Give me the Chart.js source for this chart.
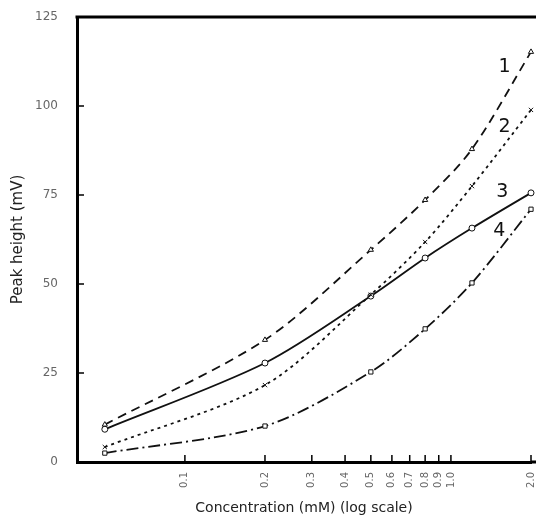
<!DOCTYPE html>
<html>
<head>
<meta charset="utf-8">
<script src="https://cdn.jsdelivr.net/npm/chart.js@4/dist/chart.umd.min.js"></script>
<style>
  html, body { margin: 0; padding: 0; background: #fff; overflow: hidden; }
  #wrap { width: 536px; height: 519px; }
</style>
</head>
<body>
<div id="wrap"><canvas id="peakChart"></canvas></div>
<script>
// concentrations (mM) where the peaks were measured
const concentrations = [0.05, 0.2, 0.5, 0.8, 1.2, 2.0];
// peak heights (mV) for curves 1..4
const curve1 = [10.5, 34.3, 59.6, 73.6, 87.9, 115.2];
const curve2 = [4.2, 21.6, 47.0, 61.8, 77.5, 98.9];
const curve3 = [9.2, 27.8, 46.6, 57.3, 65.7, 75.6];
const curve4 = [2.5, 10.1, 25.3, 37.4, 50.3, 71.0];
const curveNames = ['1', '2', '3', '4'];
const xTickValues = [0.1, 0.2, 0.3, 0.4, 0.5, 0.6, 0.7, 0.8, 0.9, 1.0, 2.0];
const yTickValues = [0, 25, 50, 75, 100, 125];

const pairs = (ys) => concentrations.map((c, i) => ({ x: c, y: ys[i] }));

const makeSet = (label, ys, dash, pointStyle) => ({
    label: label,
    data: pairs(ys),
    borderColor: '#111',
    backgroundColor: '#fff',
    borderWidth: 1.8,
    borderDash: dash,
    pointStyle: pointStyle,
    pointRadius: 3,
    pointBorderWidth: 1,
    pointBorderColor: '#111',
    pointBackgroundColor: '#fff',
    tension: 0.3,
    fill: false,
    clip: false
});

// draws the curve numbers next to the right ends of the lines
const curveLabelPlugin = {
    id: 'curveLabels',
    afterDatasetsDraw(chart) {
        const ctx = chart.ctx;
        const xs = chart.scales.x;
        const ys = chart.scales.y;
        const spots = [[1.59, 111], [1.59, 94], [1.56, 75.8], [1.52, 64.9]];
        ctx.save();
        ctx.fillStyle = '#111';
        ctx.font = '19px "DejaVu Sans"';
        ctx.textAlign = 'center';
        ctx.textBaseline = 'middle';
        curveNames.forEach((name, i) => {
            ctx.fillText(name, xs.getPixelForValue(spots[i][0]), ys.getPixelForValue(spots[i][1]));
        });
        ctx.restore();
    }
};

// frame on top plus inward tick marks
const framePlugin = {
    id: 'frame',
    afterDraw(chart) {
        const ctx = chart.ctx;
        const area = chart.chartArea;
        const xs = chart.scales.x;
        const ys = chart.scales.y;
        ctx.save();
        ctx.strokeStyle = '#000';
        ctx.lineWidth = 3;
        ctx.beginPath();
        ctx.moveTo(area.left - 1.5, area.top);
        ctx.lineTo(chart.width, area.top);
        ctx.moveTo(area.right, area.bottom);
        ctx.lineTo(chart.width, area.bottom);
        ctx.stroke();

        ctx.lineWidth = 1.5;
        ctx.beginPath();
        xTickValues.forEach(v => {
            const px = xs.getPixelForValue(v);
            ctx.moveTo(px, area.bottom);
            ctx.lineTo(px, area.bottom - 7);
        });
        yTickValues.slice(1, -1).forEach(v => {
            const py = ys.getPixelForValue(v);
            ctx.moveTo(area.left, py);
            ctx.lineTo(area.left + 7, py);
        });
        ctx.stroke();
        ctx.restore();
    }
};

const noPad = (s) => { s.paddingTop = 0; s.paddingBottom = 0; s.paddingLeft = 0; s.paddingRight = 0; };

new Chart(document.getElementById('peakChart').getContext('2d'), {
    type: 'line',
    data: {
        datasets: [
            makeSet('1', curve1, [9, 6], 'triangle'),
            makeSet('2', curve2, [3, 4], 'crossRot'),
            makeSet('3', curve3, [], 'circle'),
            makeSet('4', curve4, [12, 4, 2, 4], 'rect')
        ]
    },
    options: {
        responsive: true,
        maintainAspectRatio: false,
        animation: false,
        layout: { padding: { top: 17, right: 0, left: 0, bottom: 0 } },
        plugins: {
            legend: { display: false },
            tooltip: { enabled: false }
        },
        scales: {
            x: {
                type: 'logarithmic',
                min: 0.0393,
                max: 2.0,
                afterFit: (s) => { s.height = 57; noPad(s); },
                afterBuildTicks: (s) => { s.ticks = xTickValues.map(v => ({ value: v })); },
                grid: { display: false, drawTicks: false },
                border: { display: true, color: '#000', width: 3 },
                ticks: {
                    autoSkip: false,
                    minRotation: 90,
                    maxRotation: 90,
                    padding: 10,
                    color: '#666',
                    font: { family: 'DejaVu Sans', size: 10 },
                    callback: (v) => Number(v).toFixed(1)
                },
                title: {
                    display: true,
                    text: 'Concentration (mM) (log scale)',
                    color: '#222',
                    font: { family: 'DejaVu Sans', size: 14 },
                    padding: { top: 0, bottom: 2 }
                }
            },
            y: {
                min: 0,
                max: 125,
                afterFit: (s) => { s.width = 77; noPad(s); },
                afterBuildTicks: (s) => { s.ticks = yTickValues.map(v => ({ value: v })); },
                grid: { display: false, drawTicks: false },
                border: { display: true, color: '#000', width: 3 },
                ticks: {
                    padding: 19,
                    color: '#666',
                    font: { family: 'DejaVu Sans', size: 12 }
                },
                title: {
                    display: true,
                    text: 'Peak height (mV)',
                    color: '#222',
                    font: { family: 'DejaVu Sans', size: 15 },
                    padding: { top: 9, bottom: 0 }
                }
            }
        }
    },
    plugins: [curveLabelPlugin, framePlugin]
});
</script>
</body>
</html>
